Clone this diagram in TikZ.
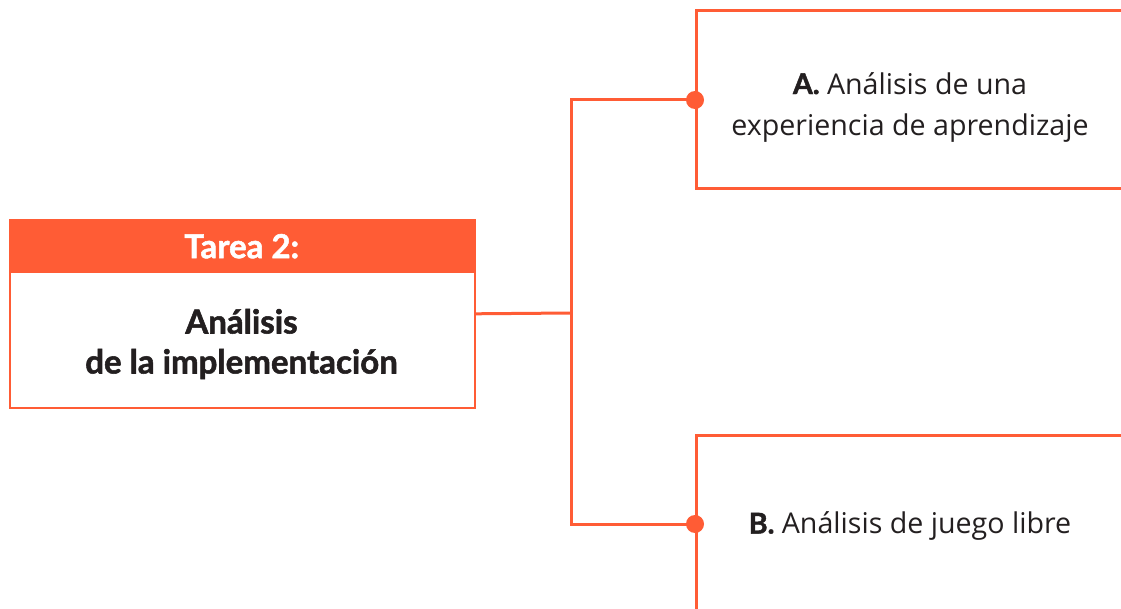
\documentclass[tikz,border=0pt]{standalone}
\usepackage{fontspec}
\setmainfont{Open Sans}
\newfontfamily\headfont[BoldFeatures={FakeBold=1.6}]{Lato}
\definecolor{org}{HTML}{FF5C35}
\definecolor{txt}{HTML}{231F20}
\tikzset{
  conn/.style={draw=org, line width=3pt},
  optbox/.style={draw=org, line width=3pt, minimum width=600pt, minimum height=178pt, anchor=west, inner sep=0pt},
  opttext/.style={text=txt, align=center, font=\fontsize{28.6}{41}\selectfont},
  dot/.style={fill=org},
}
\begin{document}
\begin{tikzpicture}[x=1pt,y=-1pt]
\useasboundingbox (0,0) rectangle (1121,609);
\fill[white] (0,0) rectangle (1121,609);
\clip (0,0) rectangle (1121,609);
% left task box
\node[fill=org, minimum width=465pt, minimum height=54pt, anchor=north west, inner sep=0pt,
      text=white, font=\headfont\bfseries\fontsize{33}{40}\selectfont] (head) at (9,219) {Tarea 2:};
\node[draw=org, line width=1.6pt, minimum width=465pt, minimum height=188pt, anchor=north west, inner sep=0pt] (task) at (9,219) {};
\node[text=txt, align=center, font=\headfont\bfseries\fontsize{33}{40}\selectfont] (tasktext) at (241.5,344) {Análisis\\de la implementación};
% option boxes
\node[optbox] (boxA) at (695,100) {};
\node[optbox] (boxB) at (695,524) {};
\node[opttext] (textA) at (910,107) {{\headfont\bfseries A.} Análisis de una\\experiencia de aprendizaje};
\node[opttext] (textB) at (910,526) {{\headfont\bfseries B.} Análisis de juego libre};
% connectors
\coordinate (split) at (571,313);
\draw[conn] (task.east) -- (split);
\draw[conn] (split) |- (boxA.west);
\draw[conn] (split) |- (boxB.west);
\fill[dot] (boxA.west) circle (9pt);
\fill[dot] (boxB.west) circle (9pt);
\end{tikzpicture}
\end{document}
